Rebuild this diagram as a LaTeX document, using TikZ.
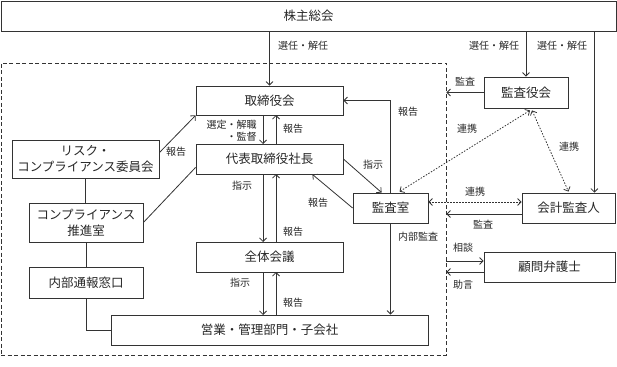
\documentclass[tikz,border=0pt]{standalone}
\usepackage{fontspec}
\newfontfamily\jp{Noto Sans CJK JP}
\usetikzlibrary{arrows.meta,calc}
\begin{document}
\begin{tikzpicture}[x=1pt,y=-1pt,line width=0.8pt,draw=black!80,text=black!85,
  box/.style={draw,inner sep=0pt,align=center,font=\jp\fontsize{12.5}{16}\selectfont},
  lbl/.style={inner sep=0pt,font=\jp\fontsize{10}{12.5}\selectfont},
  arr/.style={-{Straight Barb[length=3.5pt,width=7pt]}},
  darr/.style={dash pattern=on 1.5pt off 1.5pt,{Straight Barb[length=3.5pt,width=7pt]}-{Straight Barb[length=3.5pt,width=7pt]}}]
\useasboundingbox (0,0) rectangle (617,366);
% dashed boundary
\node[draw,dash pattern=on 4pt off 2.5pt,inner sep=0pt,minimum width=445pt,minimum height=292pt] (inner) at (223.5,209) {};
% boxes
\node[box,minimum width=615pt,minimum height=30pt] (top) at (308.5,16) {株主総会};
\node[box,minimum width=147pt,minimum height=29pt] (tori) at (269.5,100.5) {取締役会};
\node[box,minimum width=147pt,minimum height=30pt] (daihyo) at (269.5,159) {代表取締役社長};
\node[box,minimum width=147pt,minimum height=30pt] (zentai) at (269.5,257) {全体会議};
\node[box,minimum width=317pt,minimum height=30pt] (eigyo) at (269.5,330) {営業・管理部門・子会社};
\node[box,minimum width=147pt,minimum height=38pt] (risk) at (85.5,159) {リスク・\\コンプライアンス委員会};
\node[box,minimum width=114pt,minimum height=39pt] (comp) at (86,222.5) {コンプライアンス\\推進室};
\node[box,minimum width=114pt,minimum height=31pt] (naibu) at (86,282.5) {内部通報窓口};
\node[box,minimum width=84pt,minimum height=31pt] (kansayaku) at (526,92.5) {監査役会};
\node[box,minimum width=75pt,minimum height=30pt] (shitsu) at (390.5,208) {監査室};
\node[box,minimum width=93pt,minimum height=30pt] (kaikei) at (568.5,208) {会計監査人};
\node[box,minimum width=131pt,minimum height=30pt] (komon) at (549.5,267) {顧問弁護士};
% top connectors
\draw[arr] (top.south -| tori.north) -- (tori.north);
\draw[arr] (top.south -| kansayaku.north) -- (kansayaku.north);
\coordinate (kk) at ([xshift=-21pt]kaikei.north east);
\draw[arr] (top.south -| kk) -- (kk);
\node[lbl] at (303,46) {選任・解任};
\node[lbl] at (494,46) {選任・解任};
\node[lbl] at (562,46) {選任・解任};
% tori <-> daihyo
\draw[arr] (263,115) -- (263,144);
\draw[arr] (276,144) -- (276,115);
\node[lbl,align=right,anchor=east] at (257,130.5) {選定・解職\\・監督};
\node[lbl] at (293,129) {報告};
% daihyo <-> zentai
\draw[arr] (263,174) -- (263,242);
\draw[arr] (276,242) -- (276,174);
\node[lbl] at (242,186) {指示};
\node[lbl] at (293,232) {報告};
% zentai <-> eigyo
\draw[arr] (263,272) -- (263,315);
\draw[arr] (276,315) -- (276,272);
\node[lbl] at (240,283) {指示};
\node[lbl] at (293,303) {報告};
% left side
\draw[arr] ([yshift=-13pt]risk.north east) -- (tori.south west);
\node[lbl] at (176,152) {報告};
\draw (comp.east) -- ([yshift=7pt]daihyo.south west);
\draw (risk.south) -- (risk.south |- comp.north);
\draw (comp.south) -- (comp.south |- naibu.north);
\draw (naibu.south) |- (eigyo.west);
% kansayaku
\draw[arr] (kansayaku.west) -- (inner.east |- kansayaku.west);
\node[lbl] at (465,82) {監査};
% shitsu connectors
\draw[arr] (shitsu.north) |- (tori.east);
\node[lbl] at (408,112) {報告};
\draw[arr] (daihyo.east) -- ([xshift=29pt]shitsu.north west);
\node[lbl] at (373,165) {指示};
\draw[arr] (shitsu.west) -- ([xshift=-31pt]daihyo.south east);
\node[lbl] at (318,203) {報告};
\draw[arr] (shitsu.south) -- (shitsu.south |- eigyo.north);
\node[lbl] at (418,237) {内部監査};
% dotted links
\draw[darr] ([xshift=9pt,yshift=1pt]shitsu.north) -- ([xshift=4pt,yshift=-2pt]kansayaku.south);
\node[lbl] at (467,129) {連携};
\draw[darr] ([xshift=6pt,yshift=-2pt]kansayaku.south) -- ([yshift=1pt]kaikei.north);
\node[lbl] at (569,147) {連携};
\draw[darr] ([yshift=6pt]shitsu.east) -- ([yshift=6pt]kaikei.west);
\node[lbl] at (475,192) {連携};
% kaikei audit
\coordinate (ka) at ([yshift=-6pt]kaikei.west);
\draw[arr] (ka) -- (inner.east |- ka);
\node[lbl] at (483,225) {監査};
% komon
\coordinate (ko1) at ([yshift=6pt]komon.west);
\coordinate (ko2) at ([yshift=-5pt]komon.west);
\draw[arr] (inner.east |- ko1) -- (ko1);
\node[lbl] at (463,248) {相談};
\draw[arr] (ko2) -- (inner.east |- ko2);
\node[lbl] at (463,285) {助言};
\end{tikzpicture}
\end{document}
